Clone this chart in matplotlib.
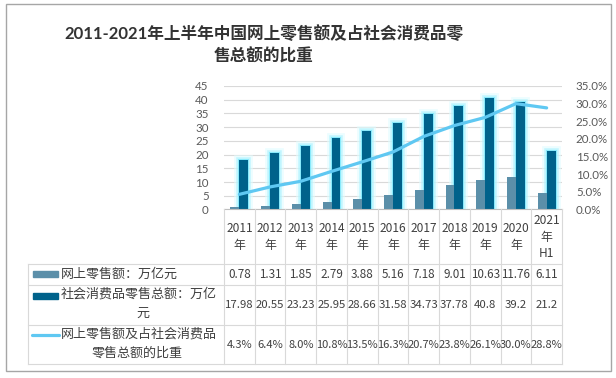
import matplotlib
matplotlib.use('Agg')
import numpy as np
import matplotlib.pyplot as plt
import matplotlib.patheffects as pe
import matplotlib.transforms as mtransforms
from matplotlib.patches import Rectangle
from matplotlib.lines import Line2D

plt.rcParams['font.family'] = ['Lato', 'Noto Sans CJK SC', 'DejaVu Sans']

# data
year_labels = [['2011', '年'], ['2012', '年'], ['2013', '年'], ['2014', '年'],
               ['2015', '年'], ['2016', '年'], ['2017', '年'], ['2018', '年'],
               ['2019', '年'], ['2020', '年'], ['2021', '年', 'H1']]
online = [0.78, 1.31, 1.85, 2.79, 3.88, 5.16, 7.18, 9.01, 10.63, 11.76, 6.11]
total = [17.98, 20.55, 23.23, 25.95, 28.66, 31.58, 34.73, 37.78, 40.8, 39.2, 21.2]
share = [4.3, 6.4, 8.0, 10.8, 13.5, 16.3, 20.7, 23.8, 26.1, 30.0, 28.8]
online_txt = ['0.78', '1.31', '1.85', '2.79', '3.88', '5.16', '7.18', '9.01', '10.63', '11.76', '6.11']
total_txt = ['17.98', '20.55', '23.23', '25.95', '28.66', '31.58', '34.73', '37.78', '40.8', '39.2', '21.2']
share_txt = [f'{v:.1f}%' for v in share]

title1 = '2011-2021年上半年中国网上零售额及占社会消费品零'
title2 = '售总额的比重'
name_online = '网上零售额：万亿元'
name_total = ['社会消费品零售总额：万亿', '元']
name_share = ['网上零售额及占社会消费品', '零售总额的比重']

c_light = '#5b8fa9'
c_dark = '#00628b'
c_line = '#5fc8f2'
c_grid = '#d9d9d9'
c_tick = '#595959'
c_text = '#404040'

W, H = 616, 378
fig = plt.figure(figsize=(W / 100, H / 100), dpi=100)


def fx(px):
    return px / W


def fy(py):
    return 1 - py / H


# outer border
fig.add_artist(Rectangle((fx(6), fy(371)), fx(605), (371 - 4) / H, transform=fig.transFigure,
                         fill=False, edgecolor='#a6a6a6', linewidth=1))

# title
fig.text(fx(264), fy(34), title1, ha='center', va='center', fontsize=12,
         fontweight='bold', color='#333333')
fig.text(fx(264), fy(56), title2, ha='center', va='center', fontsize=12,
         fontweight='bold', color='#333333')

left, right, top, bottom = 224, 562, 86, 209.5
ax = fig.add_axes([fx(left), fy(bottom), (right - left) / W, (bottom - top) / H])
ax2 = ax.twinx()

x = np.arange(len(online))
w = 0.29
glow = [pe.Stroke(linewidth=7, foreground='#e0fcff', alpha=0.6),
        pe.Stroke(linewidth=4, foreground='#a8f2ff', alpha=0.6),
        pe.Stroke(linewidth=1.5, foreground='#70e4fa', alpha=0.7),
        pe.Normal()]
ax.bar(x + w / 2, total, width=w, color=c_dark, zorder=3, path_effects=glow)
ax.bar(x - w / 2, online, width=w, color=c_light, zorder=4)
ax2.plot(x, [v / 100 for v in share], color=c_line, linewidth=2.3, solid_capstyle='round')

ax.set_xlim(-0.5, len(online) - 0.5)
ax.set_ylim(0, 45)
ax.set_yticks(range(0, 46, 5))
ax2.set_ylim(0, 0.35)
ax2.set_yticks(np.arange(0, 0.351, 0.05))
ax2.set_yticklabels([f'{v * 100:.1f}%' for v in np.arange(0, 0.351, 0.05)])
ax.set_xticks([])
ax.grid(axis='y', color=c_grid, linewidth=0.8, zorder=0)
ax.set_axisbelow(True)
for a in (ax, ax2):
    for s in ('top', 'left', 'right', 'bottom'):
        a.spines[s].set_visible(False)
    a.tick_params(length=0, labelsize=8.3, labelcolor=c_tick)
ax.tick_params(axis='y', pad=11)
ax2.tick_params(axis='y', pad=10)

# data table
tr = mtransforms.blended_transform_factory(ax.transData, fig.transFigure)
tab_font = ['Noto Sans CJK SC', 'DejaVu Sans']
rows = [209.5, 264, 285, 325, 364]
fig.add_artist(Line2D([-0.5, len(online) - 0.5], [fy(209.5)] * 2, transform=tr,
                      color='#bfbfbf', linewidth=0.8))
for ry in rows[1:]:
    fig.add_artist(Line2D([fx(28), fx(right)], [fy(ry)] * 2, transform=fig.transFigure,
                          color=c_grid, linewidth=0.8))
fig.add_artist(Line2D([fx(28), fx(28)], [fy(264), fy(364)], transform=fig.transFigure,
                      color=c_grid, linewidth=0.8))
for k in range(len(online) + 1):
    fig.add_artist(Line2D([k - 0.5, k - 0.5], [fy(209.5), fy(364)], transform=tr,
                          color=c_grid, linewidth=0.8))

for i, lab in enumerate(year_labels):
    n = len(lab)
    for j, t in enumerate(lab):
        yy = 237 + (j - (n - 1) / 2) * 16.5
        fig.text(i, fy(yy), t, transform=tr, ha='center', va='center', fontsize=8.6,
                 color=c_text, family=tab_font)
    fig.text(i, fy(274), online_txt[i], transform=tr, ha='center', va='center',
             fontsize=8.4, color=c_text, family=tab_font)
    fig.text(i, fy(305.5), total_txt[i], transform=tr, ha='center', va='center',
             fontsize=8.2, color=c_text, family=tab_font)
    fig.text(i, fy(345), share_txt[i], transform=tr, ha='center', va='center',
             fontsize=8.0, color=c_text, family=tab_font)

# legend keys and series names
fig.add_artist(Rectangle((fx(33), fy(277)), fx(25), 6 / H, transform=fig.transFigure,
                         color=c_light))
fig.add_artist(Rectangle((fx(33), fy(299)), fx(25), 6 / H, transform=fig.transFigure,
                         color=c_dark))
fig.add_artist(Line2D([fx(32), fx(59)], [fy(335)] * 2, transform=fig.transFigure,
                      color=c_line, linewidth=2.3, solid_capstyle='round'))
fig.text(fx(61), fy(274), name_online, ha='left', va='center', fontsize=9.4,
         color=c_text, family=tab_font)
fig.text(fx(61), fy(294), name_total[0], ha='left', va='center', fontsize=9.4,
         color=c_text, family=tab_font)
fig.text(fx(143), fy(314), name_total[1], ha='center', va='center', fontsize=9.4,
         color=c_text, family=tab_font)
fig.text(fx(61), fy(334), name_share[0], ha='left', va='center', fontsize=9.4,
         color=c_text, family=tab_font)
fig.text(fx(137), fy(353), name_share[1], ha='center', va='center', fontsize=9.4,
         color=c_text, family=tab_font)

fig.savefig('out.png', dpi=100)
